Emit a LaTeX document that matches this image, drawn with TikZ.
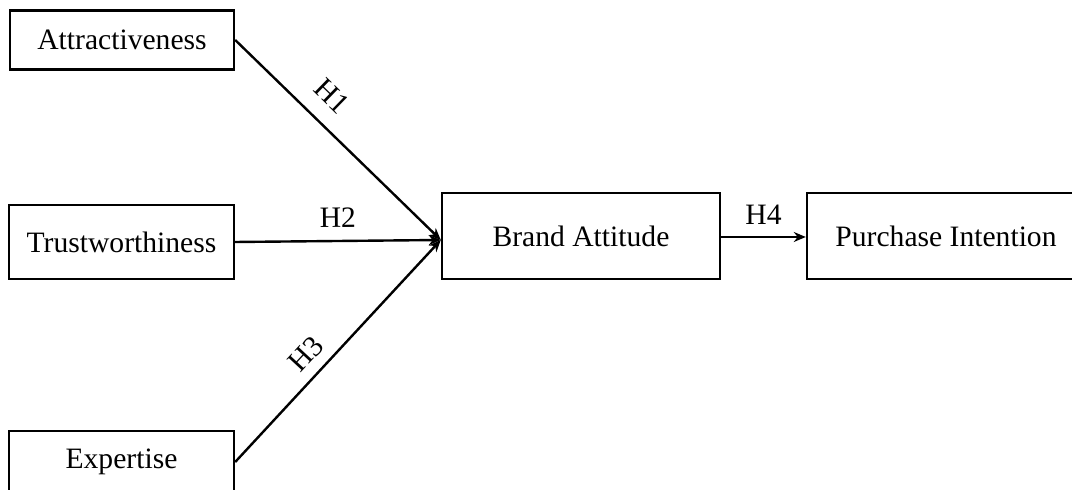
\documentclass[tikz,border=0pt]{standalone}
\usepackage{fontspec}
\setmainfont{Liberation Serif}
\usetikzlibrary{arrows.meta,positioning,calc}
\tikzset{
	box/.style={draw, line width=1.2pt, inner sep=0pt,
		font=\fontsize{14.8}{17}\selectfont},
	ar/.style={line width=1.2pt, -{Stealth[length=6pt,width=5pt]}},
	hyp/.style={sloped, inner sep=3.33pt, font=\fontsize{14.8}{17}\selectfont}
}

\begin{document}
\begin{tikzpicture}[x=0.5pt, y=-0.5pt]
   \useasboundingbox (0,0) rectangle (1072,490);
   \clip (0,0) rectangle (1072,490);
   % sources
   \node[box, minimum width=112pt, minimum height=29.5pt] (attr) at (122,40) {Attractiveness};
   \node[box, minimum width=112.5pt, minimum height=37pt] (trust) at (121.5,242) {Trustworthiness};
   \node[box, minimum width=112.5pt, minimum height=31pt] (expert) at (121.5,462) {Expertise};
   % mediator and outcome
   \node[box, minimum width=139pt, minimum height=43pt] (brand) at (581,236) {Brand Attitude};
   \node[box, minimum width=139pt, minimum height=43pt] (purchase) at (946,236) {Purchase Intention};
   \coordinate (hub) at ([yshift=-2pt]brand.west);
   \draw[ar] (attr.east) -- node[hyp, pos=.38, above=4.9pt] {H1} (hub);
   \draw[ar] (trust.east) -- node[hyp, pos=.5, above=2.9pt] {H2} (hub);
   \draw[ar] (expert.east) -- node[hyp, pos=.42, above=1.9pt] {H3} (hub);
   \draw[ar] ([yshift=-0.5pt]brand.east) -- node[hyp, above=2.4pt] {H4} ([yshift=-0.5pt]purchase.west);
\end{tikzpicture}
\end{document}
